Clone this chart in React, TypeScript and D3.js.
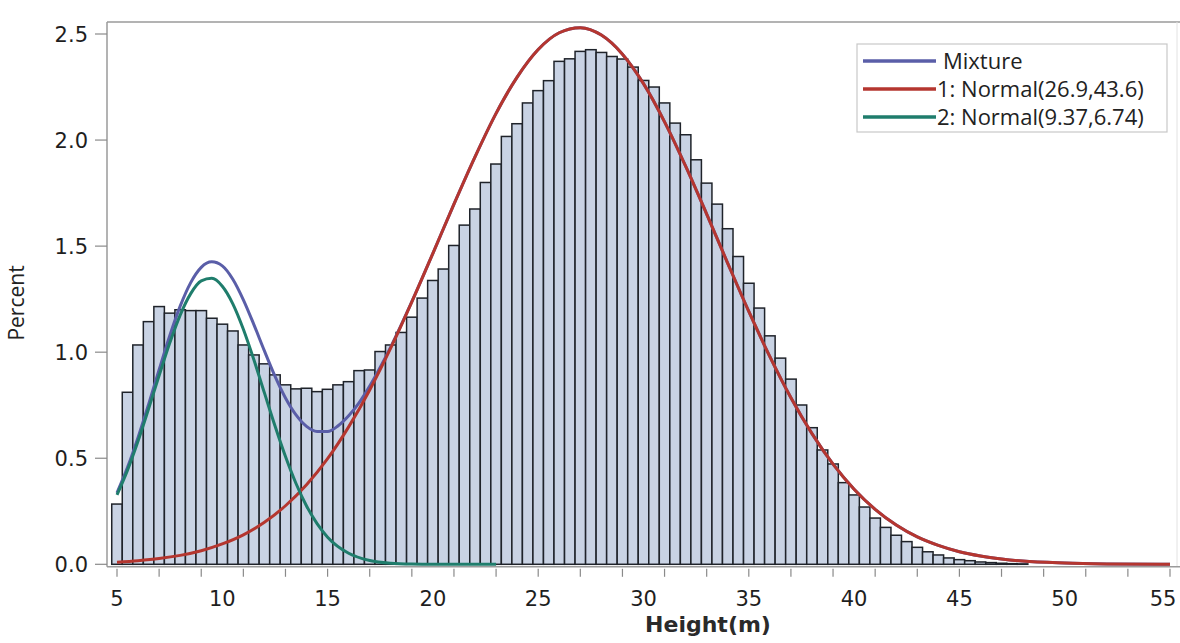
import React from 'react';
import * as d3 from 'd3';

// histogram of tree heights, 0.5 m bins (centre of bin)
const binCenters = [
  5, 5.5, 6, 6.5, 7, 7.5, 8, 8.5, 9, 9.5, 10, 10.5, 11, 11.5, 12, 12.5, 13, 13.5, 14, 14.5,
  15, 15.5, 16, 16.5, 17, 17.5, 18, 18.5, 19, 19.5, 20, 20.5, 21, 21.5, 22, 22.5, 23, 23.5, 24, 24.5,
  25, 25.5, 26, 26.5, 27, 27.5, 28, 28.5, 29, 29.5, 30, 30.5, 31, 31.5, 32, 32.5, 33, 33.5, 34, 34.5,
  35, 35.5, 36, 36.5, 37, 37.5, 38, 38.5, 39, 39.5, 40, 40.5, 41, 41.5, 42, 42.5, 43, 43.5, 44, 44.5,
  45, 45.5, 46, 46.5, 47, 47.5, 48,
];
const percent = [
  0.284, 0.811, 1.034, 1.144, 1.215, 1.184, 1.2, 1.196, 1.196, 1.16, 1.132, 1.1, 1.034, 0.987, 0.945, 0.893, 0.846, 0.827, 0.83, 0.814,
  0.825, 0.846, 0.861, 0.913, 0.916, 1.003, 1.034, 1.093, 1.165, 1.255, 1.338, 1.392, 1.503, 1.599, 1.675, 1.8, 1.887, 2.017, 2.077, 2.175,
  2.233, 2.28, 2.371, 2.383, 2.418, 2.426, 2.413, 2.394, 2.382, 2.344, 2.281, 2.25, 2.175, 2.08, 2.025, 1.907, 1.797, 1.698, 1.582, 1.451,
  1.325, 1.208, 1.077, 0.972, 0.873, 0.751, 0.644, 0.539, 0.473, 0.385, 0.327, 0.27, 0.218, 0.174, 0.137, 0.107, 0.08, 0.059, 0.044, 0.03,
  0.022, 0.017, 0.011, 0.008, 0.005, 0.003, 0.002,
];

// fitted curves
const mixture: [number, number][] = [
  [5, 0.337], [5.5, 0.457], [6, 0.598], [6.5, 0.754], [7, 0.917], [7.5, 1.076], [8, 1.217], [8.5, 1.328],
  [9, 1.4], [9.5, 1.426], [10, 1.407], [10.5, 1.344], [11, 1.247], [11.5, 1.13], [12, 1.006], [12.5, 0.887],
  [13, 0.784], [13.5, 0.704], [14, 0.65], [14.5, 0.626], [15, 0.626], [15.5, 0.653], [16, 0.7], [16.5, 0.762],
  [17, 0.84], [17.5, 0.929], [18, 1.025], [19, 1.238], [20, 1.466], [21, 1.698], [22, 1.921], [23, 2.126],
  [24, 2.297], [25, 2.427], [26, 2.506], [27, 2.53], [28, 2.495], [29, 2.405], [30, 2.266], [31, 2.086],
  [32, 1.877], [33, 1.651], [34, 1.419], [35, 1.192], [36, 0.979], [37, 0.785], [38, 0.616], [39, 0.472],
  [40, 0.354], [41, 0.259], [42, 0.185], [43, 0.129], [44, 0.089], [45, 0.059], [46, 0.039], [47, 0.025],
  [48, 0.015], [50, 0.006], [52, 0.002], [55, 0],
];
const normal1: [number, number][] = [
  [5, 0.01], [6, 0.017], [7, 0.027], [8, 0.042], [9, 0.064], [10, 0.096], [11, 0.139], [12, 0.198],
  [13, 0.276], [14, 0.375], [15, 0.498], [16, 0.648], [17, 0.822], [18, 1.02], [19, 1.237], [20, 1.466],
  [21, 1.698], [22, 1.921], [23, 2.126], [24, 2.297], [25, 2.427], [26, 2.506], [27, 2.53], [28, 2.495],
  [29, 2.405], [30, 2.266], [31, 2.086], [32, 1.877], [33, 1.651], [34, 1.419], [35, 1.192], [36, 0.979],
  [37, 0.785], [38, 0.616], [39, 0.472], [40, 0.354], [41, 0.259], [42, 0.185], [43, 0.129], [44, 0.089],
  [45, 0.059], [46, 0.039], [47, 0.025], [48, 0.015], [50, 0.006], [52, 0.002], [55, 0],
];
const normal2: [number, number][] = [
  [5, 0.327], [5.5, 0.444], [6, 0.581], [6.5, 0.733], [7, 0.89], [7.5, 1.042], [8, 1.175], [8.5, 1.276],
  [9, 1.336], [9.5, 1.348], [10, 1.311], [10.5, 1.228], [11, 1.108], [11.5, 0.964], [12, 0.808], [12.5, 0.653],
  [13, 0.508], [13.5, 0.381], [14, 0.275], [14.5, 0.192], [15, 0.128], [16, 0.052], [17, 0.018], [18, 0.005],
  [19, 0.001], [20, 0], [23, 0],
];

const yTicks = [0, 0.5, 1, 1.5, 2, 2.5];
const xLabels = [5, 10, 15, 20, 25, 30, 35, 40, 45, 50, 55];
const xMinorTicks = [5, 7, 9, 11, 13, 15, 17, 19, 21, 23, 25, 27, 29, 31, 33, 35, 37, 39, 41, 43, 45, 47, 49, 51, 53, 55];
const legendLabels = ['Mixture', '1: Normal(26.9,43.6)', '2: Normal(9.37,6.74)'];

const W = 1180;
const H = 643;
const colors = { mixture: '#5a5ea8', n1: '#b5362f', n2: '#1f7d6c' };

export default function App() {
  const x = d3.scaleLinear().domain([5, 55]).range([117, 1170]);
  const y = d3.scaleLinear().domain([0, 2.5]).range([564.3, 34]);
  const barW = x(5.5) - x(5);
  const left = 107;
  const top = 22;
  const axisY = y(0) + 2.5;

  const line = d3
    .line<[number, number]>()
    .x((d) => x(d[0]))
    .y((d) => y(d[1]))
    .curve(d3.curveMonotoneX);

  const tickFont = { fontFamily: 'DejaVu Sans', fontSize: 21, fill: '#1e1e1e' };
  const legendColors = [colors.mixture, colors.n1, colors.n2];

  return (
    <>
      <style>{'body{margin:0}'}</style>
      <svg width={W} height={H} style={{ display: 'block', background: '#fff' }}>
        {/* frame */}
        <line x1={left} x2={W} y1={top} y2={top} stroke="#9a9a9a" strokeWidth={1.5} />
        <line x1={1177} x2={1177} y1={top} y2={axisY} stroke="#e2e2e2" strokeWidth={1} />
        <line x1={left} x2={left} y1={top} y2={axisY} stroke="#9a9a9a" strokeWidth={1.5} />
        <line x1={left} x2={W} y1={axisY} y2={axisY} stroke="#9a9a9a" strokeWidth={1.5} />

        {/* y axis */}
        {yTicks.map((t) => (
          <g key={t}>
            <line x1={95} x2={left} y1={y(t)} y2={y(t)} stroke="#8a8a8a" strokeWidth={1.2} />
            <text x={88} y={y(t)} dy="0.36em" textAnchor="end" {...tickFont}>
              {t.toFixed(1)}
            </text>
          </g>
        ))}
        <text
          transform="translate(24,303) rotate(-90)"
          textAnchor="middle"
          fontFamily="Open Sans"
          fontSize={21}
          fill="#222"
        >
          Percent
        </text>

        {/* x axis */}
        {xMinorTicks.map((t) => (
          <line key={t} x1={x(t)} x2={x(t)} y1={axisY + 2} y2={axisY + 10} stroke="#8a8a8a" strokeWidth={1.2} />
        ))}
        {xLabels.map((t) => (
          <text key={t} x={Math.min(x(t), 1163)} y={606} textAnchor="middle" {...tickFont}>
            {t}
          </text>
        ))}
        <text x={708} y={632} textAnchor="middle" fontFamily="DejaVu Sans" fontWeight="bold" fontSize={22} fill="#2a2a2a">
          Height(m)
        </text>

        {/* histogram */}
        {binCenters.map((c, i) => (
          <rect
            key={c}
            x={x(c - 0.25)}
            y={y(percent[i])}
            width={barW}
            height={y(0) - y(percent[i])}
            fill="#c9d3e4"
            stroke="#1f232a"
            strokeWidth={1.5}
          />
        ))}

        {/* curves */}
        <path d={line(mixture) ?? ''} fill="none" stroke={colors.mixture} strokeWidth={3} />
        <path d={line(normal1) ?? ''} fill="none" stroke={colors.n1} strokeWidth={3} />
        <path d={line(normal2) ?? ''} fill="none" stroke={colors.n2} strokeWidth={3} />

        {/* legend */}
        <rect x={857} y={44} width={310} height={88} fill="#fff" stroke="#c8c8c8" strokeWidth={1.2} />
        {legendLabels.map((label, i) => (
          <g key={label}>
            <line x1={863} x2={936} y1={61 + i * 28} y2={61 + i * 28} stroke={legendColors[i]} strokeWidth={3.5} />
            <text
              x={i === 0 ? 943 : 937}
              y={61 + i * 28}
              dy="0.36em"
              fontFamily="Open Sans"
              fontSize={22}
              fill="#222"
            >
              {label}
            </text>
          </g>
        ))}
      </svg>
    </>
  );
}
